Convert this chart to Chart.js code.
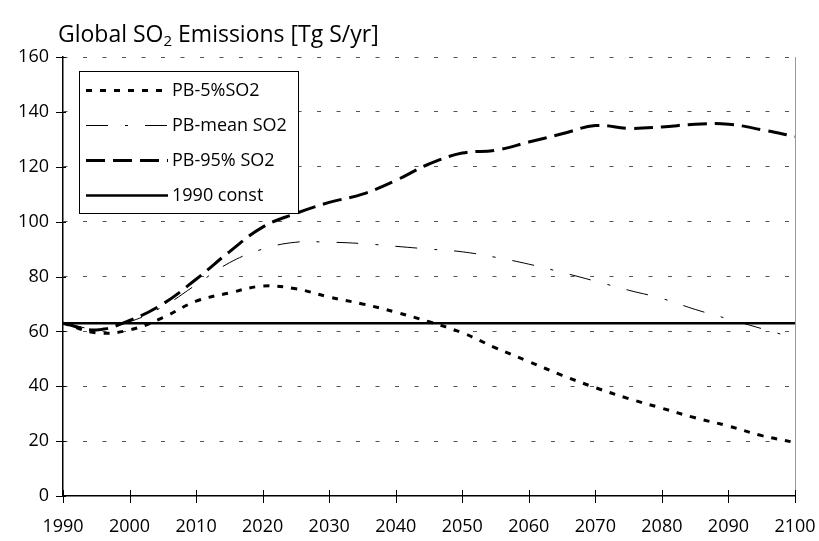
<!DOCTYPE html>
<html>
<head>
<meta charset="utf-8">
<script src="https://cdn.jsdelivr.net/npm/chart.js@4"></script>
<style>
  html, body { margin: 0; padding: 0; background: #fff; }
  #wrap { position: relative; width: 819px; height: 541px; }
  #title { position: absolute; left: 58px; top: 17px; font: 23px "Open Sans", sans-serif; color: #000; white-space: nowrap; }
  #title sub { font-size: 15px; vertical-align: -4px; line-height: 0; }
</style>
</head>
<body>
<div id="wrap">
  <div id="title">Global SO<sub>2</sub> Emissions [Tg S/yr]</div>
  <canvas id="c" width="819" height="541"></canvas>
</div>
<script>
// Emisiones globales de SO2, escenarios PB
var years = [1990, 1995, 2000, 2005, 2010, 2015, 2020, 2025, 2030, 2035, 2040, 2045,
             2050, 2055, 2060, 2065, 2070, 2075, 2080, 2085, 2090, 2095, 2100];
var pb5 = [63, 59.5, 60.5, 65, 71, 74, 76.5, 75.5, 72.5, 70, 67, 63.5,
           59.5, 54, 49, 44, 39.5, 35.5, 32, 28.5, 25.5, 22, 19.5];
var pbMean = [63, 61, 63.5, 69, 77, 85, 90, 92.5, 92.5, 92, 91, 90,
              89, 87, 84.5, 81.5, 78.3, 75, 72, 68, 64.5, 61, 57.5];
var pb95 = [63, 60.5, 64, 70, 79, 89, 98, 103, 107, 110, 115, 121,
            125, 126, 129, 132, 135, 134, 134.5, 135.5, 135.5, 133.5, 131];
var const1990 = [63, 63];
var constYears = [1990, 2100];
var yTicks = [0, 20, 40, 60, 80, 100, 120, 140, 160];
var xTicks = [1990, 2000, 2010, 2020, 2030, 2040, 2050, 2060, 2070, 2080, 2090, 2100];

var FONT = '"Open Sans", sans-serif';

function pts(xs, ys) {
  return xs.map(function (x, i) { return { x: x, y: ys[i] }; });
}

// marcas de los ejes cruzando el eje, borde derecho gris y leyenda dentro del área
var decor = {
  id: "decor",
  afterDraw: function (chart) {
    var ctx = chart.ctx, a = chart.chartArea;
    var xs = chart.scales.x, ys = chart.scales.y;
    ctx.save();
    ctx.strokeStyle = "#999";
    ctx.lineWidth = 1;
    ctx.beginPath();
    ctx.moveTo(a.right + 0.5, a.top);
    ctx.lineTo(a.right + 0.5, a.bottom);
    ctx.stroke();

    ctx.strokeStyle = "#000";
    ctx.beginPath();
    yTicks.forEach(function (v) {
      var y = Math.round(ys.getPixelForValue(v)) + 0.5;
      ctx.moveTo(a.left - 7, y);
      ctx.lineTo(a.left + 3, y);
    });
    xTicks.forEach(function (v) {
      var x = Math.round(xs.getPixelForValue(v)) + 0.5;
      ctx.moveTo(x, a.bottom - 6);
      ctx.lineTo(x, a.bottom + 7);
    });
    ctx.stroke();

    // leyenda
    var bx = 79.5, by = 71.5, bw = 219, bh = 142;
    ctx.fillStyle = "#fff";
    ctx.fillRect(bx, by, bw, bh);
    ctx.strokeStyle = "#000";
    ctx.lineWidth = 1;
    ctx.setLineDash([]);
    ctx.strokeRect(bx, by, bw, bh);
    ctx.font = "18px " + FONT;
    ctx.textBaseline = "middle";
    ctx.fillStyle = "#000";
    chart.data.datasets.forEach(function (ds, i) {
      var y = 90.5 + i * 35;
      ctx.strokeStyle = ds.borderColor;
      ctx.lineWidth = ds.borderWidth;
      ctx.setLineDash(ds.borderDash || []);
      ctx.beginPath();
      ctx.moveTo(86, y);
      ctx.lineTo(168, y);
      ctx.stroke();
      ctx.setLineDash([]);
      ctx.fillText(ds.label, 172, y);
    });
    ctx.restore();
  }
};

new Chart(document.getElementById("c"), {
  type: "line",
  data: {
    datasets: [
      { label: "PB-5%SO2", data: pts(years, pb5), borderColor: "#000", borderWidth: 3,
        borderDash: [6, 8], tension: 0.4 },
      { label: "PB-mean SO2", data: pts(years, pbMean), borderColor: "#000", borderWidth: 1,
        borderDash: [22, 17, 3, 17], tension: 0.4 },
      { label: "PB-95% SO2", data: pts(years, pb95), borderColor: "#000", borderWidth: 3,
        borderDash: [19, 8], tension: 0.4 },
      { label: "1990 const", data: pts(constYears, const1990), borderColor: "#000", borderWidth: 2.5 }
    ]
  },
  options: {
    responsive: false,
    animation: false,
    elements: { point: { radius: 0 } },
    layout: { padding: { top: 57, right: 24, left: 0, bottom: 0 } },
    plugins: { legend: { display: false }, tooltip: { enabled: false } },
    scales: {
      x: {
        type: "linear", min: 1990, max: 2100,
        afterBuildTicks: function (s) { s.ticks = xTicks.map(function (v) { return { value: v }; }); },
        afterFit: function (s) { s.height = 45; s.paddingRight = 0; s.paddingLeft = 0; },
        grid: { display: false },
        border: { display: true, color: "#000", width: 1.5 },
        ticks: { color: "#000", font: { family: FONT, size: 18 }, padding: 12,
                 maxRotation: 0, callback: function (v) { return String(v); } }
      },
      y: {
        min: 0, max: 160,
        afterBuildTicks: function (s) { s.ticks = yTicks.map(function (v) { return { value: v }; }); },
        afterFit: function (s) { s.width = 63; s.paddingTop = 0; s.paddingBottom = 0; },
        grid: { color: function (c) { return c.tick && c.tick.value === 0 ? "rgba(0,0,0,0)" : "#555"; },
                drawTicks: false, lineWidth: 1 },
        border: { display: true, color: "#000", width: 1.5, dash: [4, 15.5] },
        ticks: { color: "#000", font: { family: FONT, size: 18 }, padding: 14 }
      }
    }
  },
  plugins: [decor]
});
</script>
</body>
</html>
